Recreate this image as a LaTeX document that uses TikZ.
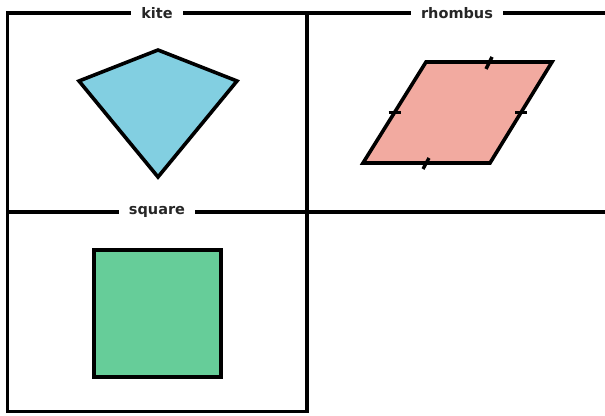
\documentclass[tikz,border=0pt]{standalone}
\usepackage{fontspec}
\setmainfont{DejaVu Sans}
\definecolor{kitefill}{HTML}{82CFE1}
\definecolor{rhombfill}{HTML}{F2AAA0}
\definecolor{squarefill}{HTML}{66CD99}
\begin{document}
\begin{tikzpicture}[x=1pt,y=-1pt,
  frame/.style={draw=black,line width=3.6pt},
  shapeline/.style={draw=black,line width=3.6pt,line join=miter},
  tick/.style={draw=black,line width=3.4pt},
  paneltitle/.style={fill=white,inner xsep=10pt,inner ysep=2pt,font=\fontsize{14.5}{16}\selectfont\bfseries,text=black!85}]
\useasboundingbox (0,0) rectangle (605,415);
\clip (0,0) rectangle (605,415);
% panel frames
\draw[frame] (7.5,13) rectangle (307,212);
\draw[frame] (307,13) rectangle (607,212);
\draw[frame] (7.5,212) rectangle (307,411.5);
% titles
\node[paneltitle] (tkite) at (157,13) {kite};
\node[paneltitle] (trhombus) at (457,13) {rhombus};
\node[paneltitle] (tsquare) at (157,212) {square};
% kite
\path[shapeline,fill=kitefill] (158,50) -- (237,81) -- (158,177) -- (79,81) -- cycle;
% rhombus
\path[shapeline,fill=rhombfill] (426,62) -- (552,62) -- (490,163) -- (363,163) -- cycle;
\draw[tick] (486,69) -- (492,57);
\draw[tick] (423,169) -- (429,158);
\draw[tick] (388.5,112.5) -- (400.5,112.5);
\draw[tick] (515,112.5) -- (527,112.5);
% square
\path[shapeline,fill=squarefill] (94,250) rectangle (221,377);
\end{tikzpicture}
\end{document}
